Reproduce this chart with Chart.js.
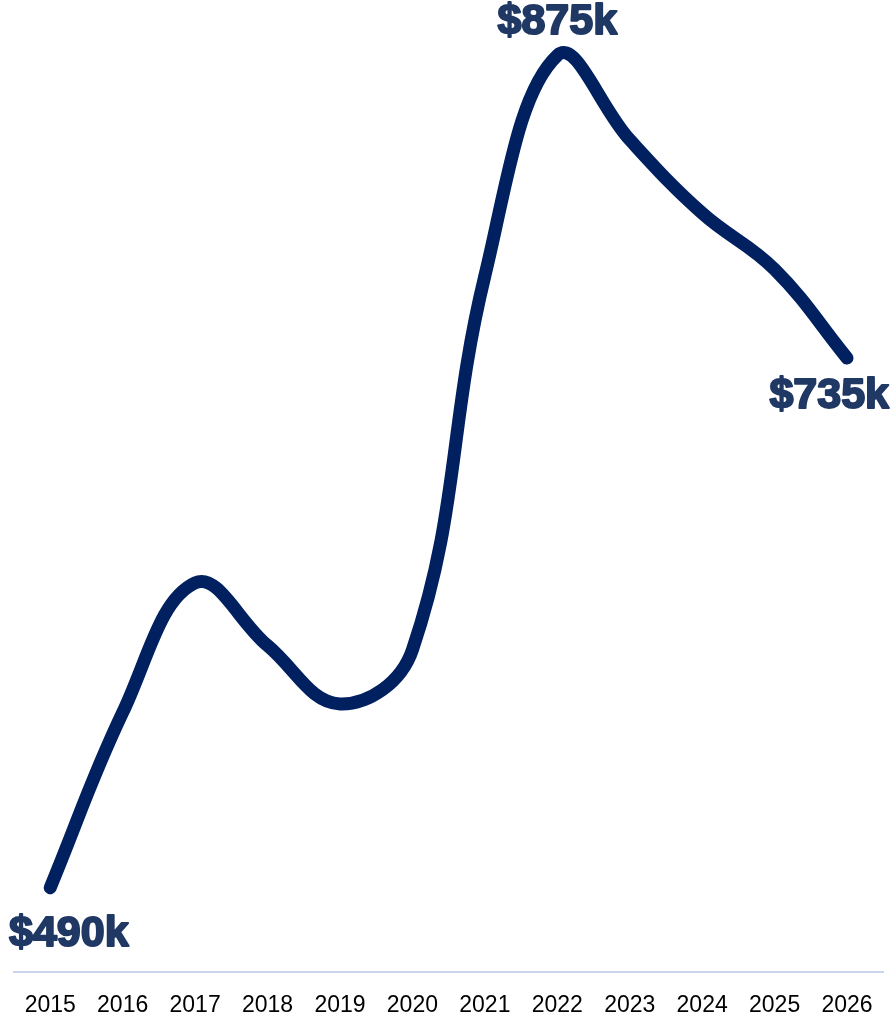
<!DOCTYPE html>
<html>
<head>
<meta charset="utf-8">
<script src="https://cdn.jsdelivr.net/npm/chart.js@4.4.1/dist/chart.umd.min.js"></script>
<style>
  html, body { margin: 0; padding: 0; background: #ffffff; }
  #wrap { width: 893px; height: 1016px; }
</style>
</head>
<body>
<div id="wrap"><canvas id="c" width="893" height="1016"></canvas></div>
<script>
const years = ['2015','2016','2017','2018','2019','2020','2021','2022','2023','2024','2025','2026'];
const values = [490, 571, 631, 602, 575, 600, 773, 875, 836, 802, 776, 735];
const labeledIndices = [0, 7, 11];
const labelOffsets = [46, -33, 38];

const lineColor = '#002060';
const labelColor = '#1f3864';

const endLabels = {
  id: 'endLabels',
  afterDatasetsDraw(chart) {
    const ctx = chart.ctx;
    const meta = chart.getDatasetMeta(0);
    ctx.save();
    ctx.font = 'bold 43px "Liberation Sans", Arial, sans-serif';
    ctx.fillStyle = labelColor;
    ctx.strokeStyle = labelColor;
    ctx.lineWidth = 2;
    ctx.lineJoin = 'round';
    ctx.textBaseline = 'middle';
    ctx.textAlign = 'left';
    labeledIndices.forEach((idx, k) => {
      const pt = meta.data[idx];
      const text = '$' + values[idx] + 'k';
      const w = ctx.measureText(text).width + 2;
      let left = pt.x - w / 2;
      if (left < 8) left = 8;
      if (left + w > 890) left = 890 - w;
      ctx.strokeText(text, left + 1, pt.y + labelOffsets[k]);
      ctx.fillText(text, left + 1, pt.y + labelOffsets[k]);
    });
    ctx.restore();
  }
};

new Chart(document.getElementById('c'), {
  type: 'line',
  data: {
    labels: years,
    datasets: [{
      data: values,
      borderColor: lineColor,
      borderWidth: 13,
      tension: 0.4,
      pointRadius: 0,
      borderCapStyle: 'round',
      borderJoinStyle: 'round',
      fill: false
    }]
  },
  options: {
    responsive: false,
    animation: false,
    layout: { padding: { left: 14, right: 9, top: 10, bottom: 0 } },
    plugins: { legend: { display: false }, tooltip: { enabled: false } },
    scales: {
      x: {
        offset: true,
        grid: { display: false, drawTicks: false },
        border: { display: true, color: '#c9d5ea', width: 2 },
        ticks: { color: '#000000', font: { family: '"Liberation Sans", Arial, sans-serif', size: 23 }, padding: 20, maxRotation: 0, autoSkip: false },
        afterFit(axis) { axis.height = 44; }
      },
      y: {
        display: false,
        min: 451,
        max: 896
      }
    }
  },
  plugins: [endLabels]
});
</script>
</body>
</html>
